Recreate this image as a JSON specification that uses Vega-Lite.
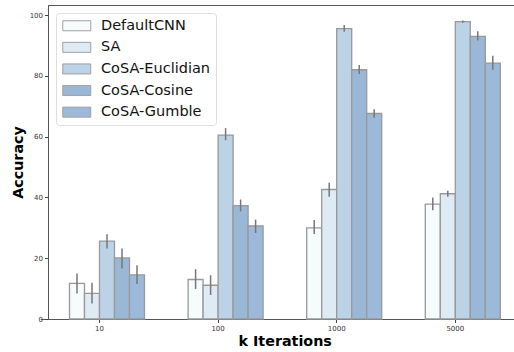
{
  "$schema": "https://vega.github.io/schema/vega-lite/v6.json",
  "width": 467,
  "height": 314,
  "autosize": {"type": "none"},
  "padding": {"left": 48, "top": 5, "right": 0, "bottom": 33},
  "background": "white",
  "config": {
    "font": "DejaVu Sans",
    "view": {"stroke": "#555", "strokeWidth": 1},
    "axis": {"grid": false, "labelFont": "DejaVu Sans", "titleFont": "DejaVu Sans"}
  },
  "data": {"values": [
    {"k": "10", "model": "DefaultCNN", "acc": 11.7, "lo": 8.4, "hi": 15.0},
    {"k": "10", "model": "SA", "acc": 8.4, "lo": 5.1, "hi": 11.9},
    {"k": "10", "model": "CoSA-Euclidian", "acc": 25.6, "lo": 23.2, "hi": 27.9},
    {"k": "10", "model": "CoSA-Cosine", "acc": 20.1, "lo": 16.6, "hi": 23.2},
    {"k": "10", "model": "CoSA-Gumble", "acc": 14.5, "lo": 11.5, "hi": 17.7},
    {"k": "100", "model": "DefaultCNN", "acc": 13.0, "lo": 9.9, "hi": 16.4},
    {"k": "100", "model": "SA", "acc": 11.1, "lo": 7.9, "hi": 14.4},
    {"k": "100", "model": "CoSA-Euclidian", "acc": 60.5, "lo": 58.8, "hi": 62.8},
    {"k": "100", "model": "CoSA-Cosine", "acc": 37.3, "lo": 35.4, "hi": 39.3},
    {"k": "100", "model": "CoSA-Gumble", "acc": 30.6, "lo": 28.3, "hi": 32.7},
    {"k": "1000", "model": "DefaultCNN", "acc": 30.0, "lo": 28.0, "hi": 32.6},
    {"k": "1000", "model": "SA", "acc": 42.6, "lo": 40.2, "hi": 44.8},
    {"k": "1000", "model": "CoSA-Euclidian", "acc": 95.5, "lo": 94.5, "hi": 96.7},
    {"k": "1000", "model": "CoSA-Cosine", "acc": 82.0, "lo": 80.6, "hi": 83.6},
    {"k": "1000", "model": "CoSA-Gumble", "acc": 67.6, "lo": 66.2, "hi": 69.0},
    {"k": "5000", "model": "DefaultCNN", "acc": 37.8, "lo": 35.8, "hi": 40.0},
    {"k": "5000", "model": "SA", "acc": 41.2, "lo": 40.2, "hi": 42.2},
    {"k": "5000", "model": "CoSA-Euclidian", "acc": 97.8, "lo": 97.5, "hi": 98.2},
    {"k": "5000", "model": "CoSA-Cosine", "acc": 93.0, "lo": 91.6, "hi": 94.7},
    {"k": "5000", "model": "CoSA-Gumble", "acc": 84.2, "lo": 82.0, "hi": 86.6}
  ]},
  "encoding": {
    "x": {
      "field": "k", "type": "nominal", "sort": ["10", "100", "1000", "5000"],
      "scale": {"range": [-7.8, 466.6], "paddingInner": 0, "paddingOuter": 0},
      "axis": {
        "title": "k Iterations", "labelAngle": 0,
        "labelFontSize": 7, "labelColor": "#333", "tickColor": "#444", "tickSize": 3.5,
        "domainColor": "#555", "labelPadding": 2,
        "titleFontSize": 14.3, "titleFontWeight": "bold", "titleColor": "#000", "titlePadding": 2.5,
        "titleX": 236.7, "titleAlign": "center"
      }
    },
    "xOffset": {
      "field": "model", "type": "nominal",
      "sort": ["DefaultCNN", "SA", "CoSA-Euclidian", "CoSA-Cosine", "CoSA-Gumble"],
      "scale": {"range": [29.3, 104.3], "paddingInner": 0, "paddingOuter": 0}
    }
  },
  "layer": [
    {
      "mark": {"type": "bar", "stroke": "#999", "strokeWidth": 1.3},
      "encoding": {
        "y": {
          "field": "acc", "type": "quantitative",
          "scale": {"domain": [0, 103.3], "nice": false, "zero": true},
          "axis": {
            "title": "Accuracy", "values": [0, 20, 40, 60, 80, 100],
            "labelFontSize": 7, "labelColor": "#333", "tickColor": "#444", "tickSize": 3.5,
            "domainColor": "#555", "labelPadding": 2,
            "titleFontSize": 14.3, "titleFontWeight": "bold", "titleColor": "#000", "titlePadding": 3.5
          }
        },
        "fill": {
          "field": "model", "type": "nominal",
          "sort": ["DefaultCNN", "SA", "CoSA-Euclidian", "CoSA-Cosine", "CoSA-Gumble"],
          "scale": {
            "domain": ["DefaultCNN", "SA", "CoSA-Euclidian", "CoSA-Cosine", "CoSA-Gumble"],
            "range": ["#f6fbfc", "#deebf4", "#bcd2e6", "#9bb7d6", "#9db9da"]
          },
          "legend": {
            "title": null, "orient": "none", "legendX": 8, "legendY": 8,
            "fillColor": "white", "strokeColor": "#ddd", "cornerRadius": 3, "padding": 5.5,
            "symbolType": "M-2.8,-1H2.8V1H-2.8Z", "symbolSize": 100,
            "symbolStrokeColor": "#a0a0a0", "symbolStrokeWidth": 1, "symbolOffset": 8,
            "labelFontSize": 14.5, "labelColor": "#111", "labelOffset": 17, "rowPadding": 5.6,
            "labelFont": "DejaVu Sans"
          }
        }
      }
    },
    {
      "mark": {"type": "rule", "color": "#777", "strokeWidth": 1.5},
      "encoding": {
        "y": {"field": "lo", "type": "quantitative"},
        "y2": {"field": "hi"}
      }
    }
  ]
}
